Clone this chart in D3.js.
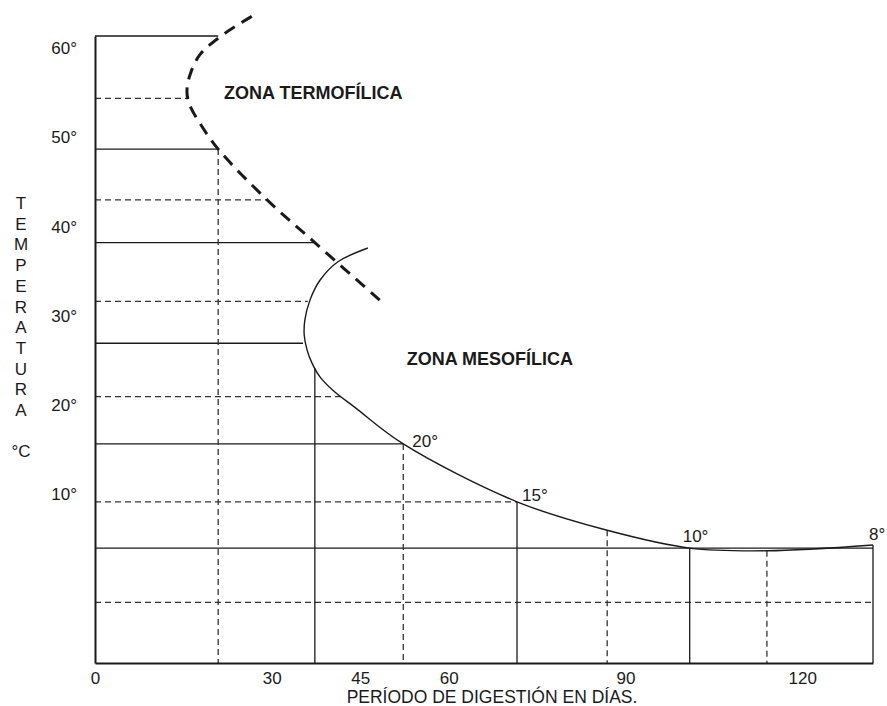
<!DOCTYPE html>
<html>
<head>
<meta charset="utf-8">
<script src="https://cdn.jsdelivr.net/npm/d3@7"></script>
<style>
  body { margin: 0; background: #fff; }
  text { font-family: "Liberation Sans", Arial, sans-serif; fill: #1a1a1a; }
</style>
</head>
<body>
<div id="chart"></div>
<script>
// values: x = días de digestión, y = temperatura °C
const xTicks = [0, 30, 45, 60, 90, 120];
const yTicks = [60, 50, 40, 30, 20, 10];

// horizontal reference lines: temperature, day where they stop, dashed?
const hTemps  = [61.4, 54.4, 48.7, 43.0, 38.2, 31.6, 26.9, 20.9, 15.6, 9.1, 3.9, -2.2];
const hEnds   = [20.9, 15.8, 20.9, 29.2, 37.3, 36.1, 35.3, 42.1, 52.3, 71.6, 132, 132];
const hDashed = [false, true, false, true, false, true, false, true, false, true, false, true];

// vertical reference lines: day, temperature where they start, dashed?
const vDays   = [20.9, 37.3, 52.3, 71.6, 86.9, 100.9, 114.0, 132];
const vTops   = [48.7, 24.1, 15.6, 9.1, 5.9, 3.9, 3.6, 4.25];
const vDashed = [true, false, true, false, true, false, true, false];

// thermophilic boundary (thick dashed)
const thermoDays  = [26.6, 21.4, 17.8, 16.1, 15.6, 16.1, 17.8, 20.9, 29.2, 37.3, 48.7];
const thermoTemps = [63.6, 61.4, 59.3, 57.0, 55.1, 53.6, 51.6, 48.7, 43.0, 38.2, 31.5];

// mesophilic boundary
const mesoDays  = [46.3, 41.1, 38.2, 36.5, 35.6, 35.5, 36.0, 36.8, 38.2, 40.4, 44.1, 52.3, 71.6, 86.9, 100.9, 114.0, 132];
const mesoTemps = [37.6, 36.0, 34.0, 31.8, 29.5, 27.8, 26.1, 24.7, 23.1, 21.6, 19.7, 15.6, 9.1, 5.9, 3.9, 3.6, 4.25];

// temperatures marked along the mesophilic curve
const markLabels = ['20°', '15°', '10°', '8°'];
const markDays   = [52.3, 71.6, 100.9, 132];
const markTemps  = [15.6, 9.1, 3.9, 4.25];

const zoneLabels = ['ZONA TERMOFÍLICA', 'ZONA MESOFÍLICA'];
const zoneDays   = [21.9, 52.9];
const zoneTemps  = [54.3, 24.5];

const yTitle = 'TEMPERATURA';
const xTitle = 'PERÍODO DE DIGESTIÓN EN DÍAS.';

const W = 887, H = 706;
const margin = { top: 36, right: 14, bottom: 43, left: 95 };
const width = W - margin.left - margin.right;
const height = H - margin.top - margin.bottom;
const ink = '#1a1a1a';

const svg = d3.select('#chart').append('svg')
  .attr('width', W)
  .attr('height', H);

const g = svg.append('g')
  .attr('transform', `translate(${margin.left},${margin.top})`);

const x = d3.scaleLinear().domain([0, 132]).range([0, width]);
const y = d3.scaleLinear().domain([-9, 61.4]).range([height, 0]);

// horizontal lines
g.selectAll('.hline')
  .data(hTemps)
  .enter()
  .append('line')
  .attr('class', 'hline')
  .attr('x1', x(0))
  .attr('x2', (d, i) => x(hEnds[i]))
  .attr('y1', d => y(d))
  .attr('y2', d => y(d))
  .attr('stroke', (d, i) => hDashed[i] ? '#333' : ink)
  .attr('stroke-width', 1.3)
  .attr('stroke-dasharray', (d, i) => hDashed[i] ? '6,4' : null);

// vertical lines
g.selectAll('.vline')
  .data(vDays)
  .enter()
  .append('line')
  .attr('class', 'vline')
  .attr('x1', d => x(d))
  .attr('x2', d => x(d))
  .attr('y1', (d, i) => y(vTops[i]))
  .attr('y2', y(-9))
  .attr('stroke', (d, i) => vDashed[i] ? '#333' : ink)
  .attr('stroke-width', 1.3)
  .attr('stroke-dasharray', (d, i) => vDashed[i] ? '6,4' : null);

const line = d3.line()
  .x(d => x(d[0]))
  .y(d => y(d[1]))
  .curve(d3.curveCatmullRom.alpha(0.5));

g.append('path')
  .datum(d3.zip(mesoDays, mesoTemps))
  .attr('d', line)
  .attr('fill', 'none')
  .attr('stroke', ink)
  .attr('stroke-width', 1.4);

g.append('path')
  .datum(d3.zip(thermoDays, thermoTemps))
  .attr('d', line)
  .attr('fill', 'none')
  .attr('stroke', ink)
  .attr('stroke-width', 3)
  .attr('stroke-dasharray', '12,8');

// axes
const xAxis = g.append('g')
  .attr('transform', `translate(0,${height})`)
  .call(d3.axisBottom(x).tickValues(xTicks).tickSize(0).tickPadding(9));
const yAxis = g.append('g')
  .call(d3.axisLeft(y).tickValues(yTicks).tickFormat(d => d + '°').tickSize(0).tickPadding(18));

[xAxis, yAxis].forEach(a => {
  a.select('.domain').attr('stroke', ink).attr('stroke-width', 2);
  a.selectAll('text').attr('font-size', 17).attr('font-family', null).attr('fill', ink);
});

// marked temperatures on the curve
const markOffset = [[9, 3], [5, -1], [-7, -6], [-4, -5]];
g.selectAll('.mark')
  .data(markLabels)
  .enter()
  .append('text')
  .attr('class', 'mark')
  .attr('x', (d, i) => x(markDays[i]) + markOffset[i][0])
  .attr('y', (d, i) => y(markTemps[i]) + markOffset[i][1])
  .attr('font-size', 17)
  .text(d => d);

g.selectAll('.zone')
  .data(zoneLabels)
  .enter()
  .append('text')
  .attr('class', 'zone')
  .attr('x', (d, i) => x(zoneDays[i]))
  .attr('y', (d, i) => y(zoneTemps[i]))
  .attr('font-size', 18)
  .attr('font-weight', 'bold')
  .text(d => d);

// titles
svg.append('text')
  .attr('x', 492)
  .attr('y', 703)
  .attr('text-anchor', 'middle')
  .attr('font-size', 17.5)
  .text(xTitle);

const yt = svg.append('text')
  .attr('text-anchor', 'middle')
  .attr('font-size', 17);
[...yTitle, '', '°C'].forEach((ch, i) => {
  yt.append('tspan')
    .attr('x', 21)
    .attr('y', 209 + i * 20.7)
    .text(ch);
});
</script>
</body>
</html>
